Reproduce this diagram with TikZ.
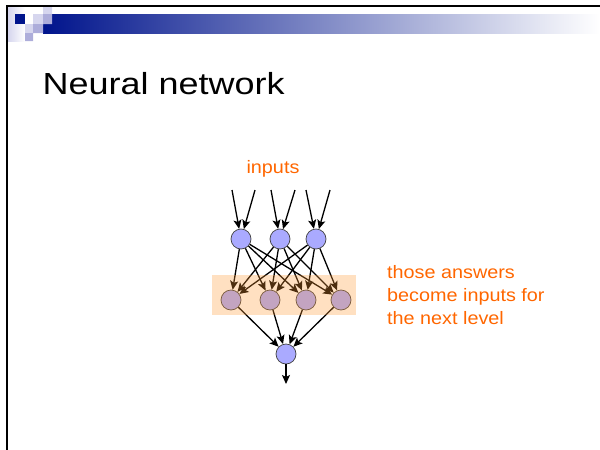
\documentclass[tikz,border=0pt]{standalone}
\usepackage{fontspec}
\setmainfont{Liberation Sans}
\usetikzlibrary{arrows.meta,positioning}
\definecolor{slideBlue}{HTML}{00148C}
\definecolor{slideLight}{HTML}{D6D6EE}
\definecolor{slideMid}{HTML}{ADADDA}
\definecolor{unitBlue}{HTML}{AAAAFF}
\definecolor{noteOrange}{HTML}{FF6600}
\definecolor{layerPeach}{HTML}{FF9933}

\begin{document}
\begin{tikzpicture}[
  x=1pt, y=-1pt,
  unit/.style={
    circle, draw=black!75, line width=0.7pt,
    fill=unitBlue, minimum size=20pt, inner sep=0pt
  },
  arr/.style={-{Stealth[length=9pt,width=8pt,inset=2pt]}, line width=1.3pt, black},
  note/.style={
    font=\fontsize{18}{22}\selectfont, text=noteOrange,
    inner sep=0pt, anchor=base west
  },
]
\useasboundingbox (0,0) rectangle (600,450);

% === Slide header ===
\shade[left color=slideBlue, right color=white] (43,14) rectangle (600,33);
\shade[left color=slideLight, right color=white] (8,7) rectangle (25,41);
\fill[slideBlue] (15,14) rectangle (25,24);
\fill[slideLight] (43,7) rectangle (52,14) (33,14) rectangle (43,24)
  (25,24) rectangle (33,33);
\fill[slideMid] (43,14) rectangle (52,24) (33,24) rectangle (43,33)
  (25,33) rectangle (33,41);
\draw[line width=2pt] (600,6) -- (7,6) -- (7,450);

% === Title ===
\node[anchor=base west, inner sep=0pt, font=\fontsize{30.5}{36}\selectfont]
  (title) at (42.5,94) {\scalebox{1.18}[1]{Neural network}};

% === Units ===
\node[unit] (t1) at (241,239) {};
\node[unit] (t2) at (280,239) {};
\node[unit] (t3) at (316,239) {};

\node[unit] (m1) at (231,300) {};
\node[unit] (m2) at (270,300) {};
\node[unit] (m3) at (306,300) {};
\node[unit] (m4) at (341,300) {};

\node[unit] (b) at (286,354) {};

% === Inputs ===
\node[note, anchor=base] (inputs) at (273,173) {\scalebox{1.1}[1]{inputs}};
\coordinate (i1) at (232,190);
\coordinate (i2) at (255,190);
\coordinate (i3) at (271,190);
\coordinate (i4) at (295,190);
\coordinate (i5) at (306,190);
\coordinate (i6) at (330,190);
\coordinate (out) at (286,384);

% === Arrows ===
\draw[arr] (i1) -- (t1);
\draw[arr] (i2) -- (t1);
\draw[arr] (i3) -- (t2);
\draw[arr] (i4) -- (t2);
\draw[arr] (i5) -- (t3);
\draw[arr] (i6) -- (t3);
\draw[arr] (t1) edge (m1) edge (m2) edge (m3) edge (m4);
\draw[arr] (t2) edge (m1) edge (m2) edge (m3) edge (m4);
\draw[arr] (t3) edge (m1) edge (m2) edge (m3) edge (m4);
\draw[arr] (m1) -- (b);
\draw[arr] (m2) -- (b);
\draw[arr] (m3) -- (b);
\draw[arr] (m4) -- (b);
\draw[arr] (b) -- (out);

% === Highlighted layer ===
\fill[layerPeach, opacity=0.3] (212,275) rectangle (356,315);

% === Note ===
\node[note] (ansA) at (387,278) {\scalebox{1.1}[1]{those answers}};
\node[note] (ansB) at (387,301) {\scalebox{1.1}[1]{become inputs for}};
\node[note] (ansC) at (387,324) {\scalebox{1.1}[1]{the next level}};

\end{tikzpicture}
\end{document}
